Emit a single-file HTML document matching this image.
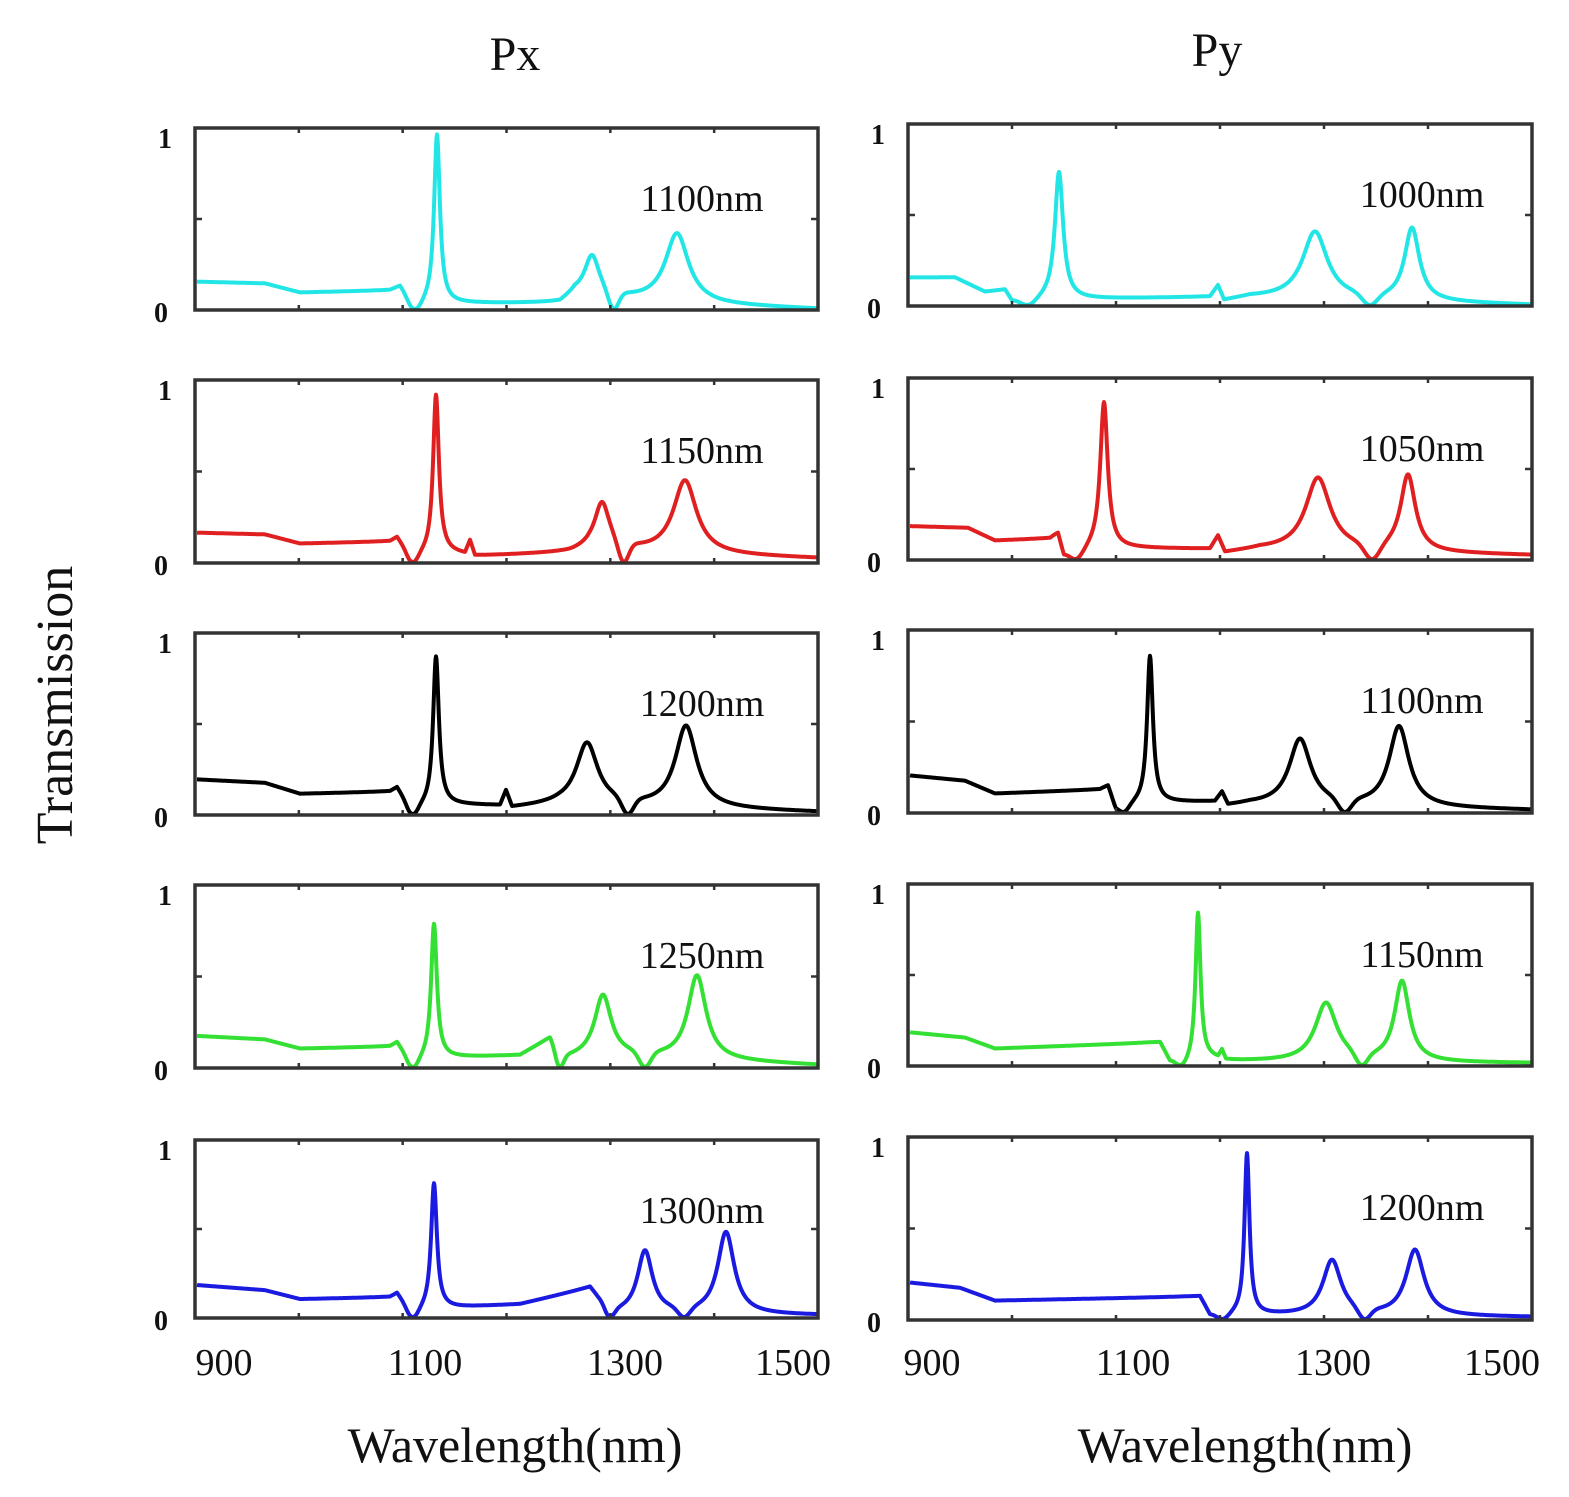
<!DOCTYPE html>
<html><head><meta charset="utf-8">
<style>
html,body{margin:0;padding:0;background:#fff;}
svg{display:block;}
text{font-family:"Liberation Serif",serif;fill:#111;}
</style></head>
<body>
<svg id="s" width="1569" height="1497" viewBox="0 0 1569 1497" xmlns="http://www.w3.org/2000/svg">
<text x="515" y="70" font-size="48" text-anchor="middle">Px</text>
<text x="1217" y="66" font-size="48" text-anchor="middle">Py</text>
<text transform="translate(72,705) rotate(-90)" font-size="52" text-anchor="middle">Transmission</text>
<text x="515" y="1462" font-size="50" text-anchor="middle">Wavelength(nm)</text>
<text x="1245" y="1462" font-size="50" text-anchor="middle">Wavelength(nm)</text>
<g font-size="38" text-anchor="middle">
<text x="224" y="1375">900</text><text x="425" y="1375">1100</text><text x="625" y="1375">1300</text><text x="793" y="1375">1500</text>
<text x="932" y="1375">900</text><text x="1133" y="1375">1100</text><text x="1333" y="1375">1300</text><text x="1502" y="1375">1500</text>
</g>
<g id="g"></g>
</svg>
<script>
var g=document.getElementById('g');var NS='http://www.w3.org/2000/svg';
function el(t,a,txt){var e=document.createElementNS(NS,t);for(var k in a)e.setAttribute(k,a[k]);if(txt)e.textContent=txt;g.appendChild(e);return e;}
var P=[
{x0:195,x1:818,t:128,b:310,c:'#22e6e6',lab:'1100nm',
 base:[[195,.15],[265,.14],[300,.09],[390,.1],[400,.12],[412,.02],[445,.03],[560,.03],[575,.08],[600,.06],[720,.02],[818,0]],
 pk:[[437,.93,3.5],[592,.22,9],[677,.38,14]],dp:[[415,7],[614,7]]},
{x0:195,x1:818,t:380,b:563,c:'#e02020',lab:'1150nm',
 base:[[195,.16],[265,.15],[300,.1],[390,.11],[397,.13],[410,.02],[445,.05],[465,.04],[470,.11],[475,.03],[570,.05],[590,.07],[700,.04],[818,.02]],
 pk:[[436,.87,3.5],[602,.25,9],[685,.4,14]],dp:[[413,6],[624,7]]},
{x0:195,x1:818,t:633,b:815,c:'#000',lab:'1200nm',
 base:[[195,.19],[265,.17],[300,.11],[390,.12],[397,.14],[410,.02],[445,.05],[500,.04],[506,.12],[512,.03],[560,.05],[818,.01]],
 pk:[[436,.82,3.5],[587,.34,13],[686,.45,13]],dp:[[413,6],[628,8]]},
{x0:195,x1:818,t:885,b:1068,c:'#33e033',lab:'1250nm',
 base:[[195,.17],[265,.15],[300,.1],[390,.11],[397,.13],[410,.02],[445,.05],[520,.06],[550,.15],[560,.04],[600,.06],[818,.01]],
 pk:[[434,.74,3.5],[603,.33,10],[697,.46,11]],dp:[[413,6],[560,5],[645,8]]},
{x0:195,x1:818,t:1140,b:1318,c:'#1a1ae0',lab:'1300nm',
 base:[[195,.18],[265,.15],[300,.1],[390,.11],[397,.13],[410,.02],[445,.05],[520,.07],[590,.16],[598,.1],[612,.02],[818,.01]],
 pk:[[434,.71,3.5],[645,.35,9],[726,.46,10]],dp:[[413,6],[610,6],[684,8]]},
{x0:908,x1:1532,t:124,b:306,c:'#22e6e6',lab:'1000nm',
 base:[[908,.15],[955,.15],[985,.07],[1005,.08],[1012,.02],[1060,.03],[1210,.04],[1218,.1],[1224,.02],[1250,.04],[1532,0]],
 pk:[[1059,.7,5],[1315,.37,15],[1412,.4,9]],dp:[[1027,10],[1370,10]]},
{x0:908,x1:1532,t:378,b:560,c:'#e02020',lab:'1050nm',
 base:[[908,.18],[968,.17],[995,.1],[1050,.11],[1058,.14],[1064,.02],[1100,.06],[1210,.05],[1218,.12],[1225,.03],[1260,.05],[1532,.02]],
 pk:[[1104,.8,4.5],[1318,.4,15],[1408,.42,9]],dp:[[1075,9],[1372,10]]},
{x0:908,x1:1532,t:630,b:813,c:'#000',lab:'1100nm',
 base:[[908,.2],[965,.17],[995,.1],[1100,.12],[1108,.14],[1116,.02],[1150,.05],[1215,.05],[1222,.1],[1228,.03],[1250,.04],[1532,.01]],
 pk:[[1150,.8,3.5],[1300,.36,13],[1399,.44,12]],dp:[[1123,7],[1345,9]]},
{x0:908,x1:1532,t:884,b:1066,c:'#33e033',lab:'1150nm',
 base:[[908,.18],[965,.15],[995,.09],[1150,.12],[1160,.12],[1170,.02],[1200,.04],[1218,.03],[1222,.07],[1226,.02],[1532,.01]],
 pk:[[1198,.8,3],[1326,.32,13],[1402,.44,9]],dp:[[1180,8],[1362,8]]},
{x0:908,x1:1532,t:1137,b:1320,c:'#1a1ae0',lab:'1200nm',
 base:[[908,.2],[960,.17],[995,.1],[1190,.12],[1200,.12],[1210,.02],[1260,.02],[1532,.01]],
 pk:[[1247,.88,3],[1332,.3,11],[1415,.36,11]],dp:[[1222,8],[1365,8]]}
];
function interp(a,x){if(x<=a[0][0])return a[0][1];for(var i=1;i<a.length;i++){if(x<=a[i][0]){var f=(x-a[i-1][0])/(a[i][0]-a[i-1][0]);return a[i-1][1]+f*(a[i][1]-a[i-1][1]);}}return a[a.length-1][1];}
P.forEach(function(p){
 var h=p.b-p.t,w=p.x1-p.x0;
 var d='';
 for(var x=p.x0+2;x<=p.x1-1;x+=0.5){
  var v=interp(p.base,x);
  p.pk.forEach(function(k){v+=k[1]/(1+Math.pow((x-k[0])/k[2],2));});
  p.dp.forEach(function(k){v*=1-Math.exp(-Math.pow((x-k[0])/k[1],2));});
  if(v>0.97)v=0.97;
  var y=p.b-v*h-1;
  d+=(d?'L':'M')+x.toFixed(1)+' '+y.toFixed(1);
 }
 el('path',{d:d,fill:'none',stroke:p.c,'stroke-width':4,'stroke-linejoin':'round'});
 el('rect',{x:p.x0,y:p.t,width:w,height:h,fill:'none',stroke:'#333','stroke-width':3.5});
 for(var i=1;i<6;i++){var tx=p.x0+i*w/6;
  el('line',{x1:tx,y1:p.t,x2:tx,y2:p.t+5,stroke:'#333','stroke-width':2.5});
  el('line',{x1:tx,y1:p.b,x2:tx,y2:p.b-5,stroke:'#333','stroke-width':2.5});}
 el('line',{x1:p.x0,y1:p.t+h/2,x2:p.x0+7,y2:p.t+h/2,stroke:'#333','stroke-width':2.5});
 el('line',{x1:p.x1,y1:p.t+h/2,x2:p.x1-7,y2:p.t+h/2,stroke:'#333','stroke-width':2.5});
 el('text',{x:p.x0-30,y:p.t+20,'font-size':28,'text-anchor':'middle','font-weight':'bold'},'1');
 el('text',{x:p.x0-34,y:p.b+12,'font-size':28,'text-anchor':'middle','font-weight':'bold'},'0');
 var lx=p.x0<500?p.x0+507:p.x0+514;
 el('text',{x:lx,y:p.t+83,'font-size':38,'text-anchor':'middle'},p.lab);
});
</script>
</body></html>
